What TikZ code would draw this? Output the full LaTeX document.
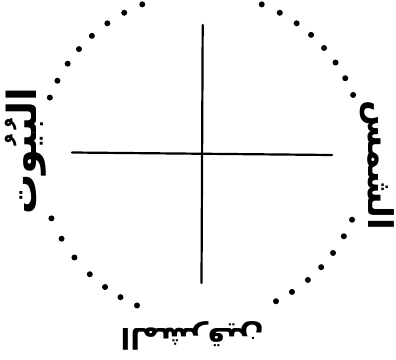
\documentclass[tikz,border=0pt]{standalone}
\usepackage{fontspec}
\newfontfamily\arabicfont[Script=Arabic]{DejaVu Sans}
\TeXXeTstate=1
\newsavebox\lblbox
\newcommand\fitarabic[2]{%
  \sbox\lblbox{\arabicfont\bfseries\fontsize{10}{12}\selectfont\beginR #2\endR}%
  \pgfmathsetmacro\lblfs{10*#1/\wd\lblbox}%
  {\arabicfont\bfseries\fontsize{\lblfs}{\lblfs}\selectfont\beginR #2\endR}}
\begin{document}
\begin{tikzpicture}[x=1pt,y=-1pt,
  dotmark/.style={fill=black},
  axisline/.style={line width=2.2pt,line cap=round},
  lbl/.style={inner sep=0pt,outer sep=0pt}]
\useasboundingbox (0,0) rectangle (396,359);
\fill[white] (0,0) rectangle (396,359);
\coordinate (c) at (202,156);
\coordinate (vt) at (202.7,25);
\coordinate (vb) at (201.5,283);
\coordinate (hl) at (72,152.5);
\coordinate (hr) at (332,155);
\draw[axisline] (vt) -- (vb);
\draw[axisline] (hl) -- (hr);
\foreach \a in {22,28.5,35,41.5,48,54.5,61.5,68.5,
                111.5,118.5,125.5,132.5,139,145.5,152.5,159,
                202.5,210.5,218.5,226.5,233.5,240,246.5,
                297,303.5,310.5,317,323.5,330.5,337}
  \fill[dotmark] ([shift={(c)}]\a:163pt) circle (3pt);
\node[lbl,rotate=90] (west) at (26,151) {\fitarabic{127}{البُيُوت}};
\node[lbl,rotate=-90] (east) at (377,165) {\fitarabic{130}{الشمس}};
\node[lbl,rotate=180] (south) at (192,336) {\fitarabic{143}{المشرقين}};
\end{tikzpicture}
\end{document}
